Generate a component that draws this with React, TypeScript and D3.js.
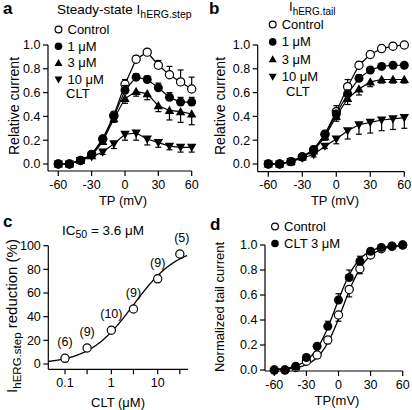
import React from "react";
import * as d3 from "d3";

// ---------- DATA ----------
const tp = [-60, -50, -40, -30, -20, -10, 0, 10, 20, 30, 40, 50, 60];

// panel a: steady-state step current
const aControl = [0, 0, 0.03, 0.08, 0.21, 0.41, 0.67, 0.88, 0.94, 0.83, 0.75, 0.69, 0.63];
const aControlErr = [0, 0, 0, 0.01, 0.02, 0.03, 0.04, 0.03, 0.02, 0.04, 0.07, 0.1, 0.1];
const a1uM = [0, 0, 0.03, 0.08, 0.21, 0.4, 0.62, 0.73, 0.71, 0.64, 0.56, 0.52, 0.52];
const a1uMErr = [0, 0, 0, 0.01, 0.02, 0.03, 0.04, 0.03, 0.03, 0.04, 0.04, 0.04, 0.04];
const a3uM = [0, 0, 0.03, 0.07, 0.19, 0.38, 0.55, 0.61, 0.59, 0.49, 0.45, 0.44, 0.42];
const a3uMErr = [0, 0, 0, 0.01, 0.02, 0.03, 0.04, 0.04, 0.05, 0.05, 0.08, 0.09, 0.09];
const a10uM = [0, 0, 0.03, 0.06, 0.1, 0.17, 0.25, 0.26, 0.21, 0.18, 0.15, 0.14, 0.14];
const a10uMErr = [0, 0, 0, 0.01, 0.02, 0.04, 0.05, 0.06, 0.05, 0.04, 0.03, 0.04, 0.04];

// panel b: tail current
const bControl = [0, 0, 0.02, 0.06, 0.12, 0.25, 0.44, 0.65, 0.83, 0.92, 0.97, 0.99, 1.0];
const bControlErr = [0, 0, 0, 0.01, 0.02, 0.03, 0.05, 0.06, 0.03, 0.02, 0.01, 0.01, 0.01];
const b1uM = [0, 0, 0.02, 0.06, 0.12, 0.25, 0.42, 0.59, 0.72, 0.79, 0.82, 0.83, 0.83];
const b1uMErr = [0, 0, 0, 0.01, 0.02, 0.03, 0.03, 0.03, 0.03, 0.02, 0.02, 0.02, 0.02];
const b3uM = [0, 0, 0.02, 0.06, 0.11, 0.23, 0.4, 0.55, 0.63, 0.69, 0.71, 0.71, 0.71];
const b3uMErr = [0, 0, 0, 0.01, 0.02, 0.03, 0.04, 0.05, 0.05, 0.04, 0.03, 0.03, 0.03];
const b10uM = [0, 0, 0.02, 0.05, 0.08, 0.15, 0.21, 0.28, 0.33, 0.35, 0.37, 0.38, 0.39];
const b10uMErr = [0, 0, 0, 0.01, 0.02, 0.02, 0.04, 0.07, 0.08, 0.09, 0.09, 0.09, 0.09];

// panel c: concentration-response
const cConc = [0.1, 0.3, 1, 3, 10, 30];
const cReduction = [4.8, 13.5, 28.5, 46.5, 72, 93];
const cErr = [0, 0, 0, 0, 3, 0];
const cN = ["(6)", "(9)", "(10)", "(9)", "(9)", "(5)"];
const cFit = { ic50: 3.0, hill: 0.9 };

// panel d: normalized tail current
const dControl = [0, 0, 0.02, 0.07, 0.12, 0.24, 0.44, 0.645, 0.81, 0.92, 0.97, 0.99, 1.0];
const dControlErr = [0, 0, 0, 0.01, 0.02, 0.03, 0.05, 0.06, 0.04, 0.02, 0.01, 0, 0];
const dCLT = [0, 0, 0.03, 0.1, 0.19, 0.35, 0.56, 0.74, 0.87, 0.95, 0.98, 0.99, 1.0];
const dCLTErr = [0, 0, 0, 0.01, 0.02, 0.04, 0.05, 0.06, 0.04, 0.01, 0, 0, 0];
const dFitControl = { v50: 4, k: 11 };
const dFitCLT = { v50: -2.7, k: 11 };

const tpTicks = [-60, -30, 0, 30, 60];
const relTicks = [0, 0.2, 0.4, 0.6, 0.8, 1.0];
const pctTicks = [0, 20, 40, 60, 80, 100];
const concTicks = [0.1, 0.3, 1, 3, 10, 30];
const concLabels = ["0.1", "", "1", "", "10", ""];

// ---------- STYLE ----------
const FONT = "'Liberation Sans', Arial, Helvetica, sans-serif";

function Marker({ x, y, kind, r = 4.1 }: { x: number; y: number; kind: string; r?: number }) {
  if (kind === "open") return <circle cx={x} cy={y} r={r} fill="#fff" stroke="#000" strokeWidth={1.2} />;
  if (kind === "filled") return <circle cx={x} cy={y} r={r + 0.4} fill="#000" />;
  const s = r + 0.6;
  if (kind === "up")
    return <path d={`M${x},${y - s} L${x + s},${y + s * 0.75} L${x - s},${y + s * 0.75} Z`} fill="#000" />;
  return <path d={`M${x},${y + s} L${x + s},${y - s * 0.75} L${x - s},${y - s * 0.75} Z`} fill="#000" />;
}

function Series({ xs, ys, err, dir, kind, sx, sy, line = true }: any) {
  const gen = d3.line<number>().x((_, i) => sx(xs[i])).y((v) => sy(v));
  return (
    <g>
      {ys.map((v: number, i: number) => {
        const e = err ? err[i] : 0;
        if (!e) return null;
        const x = sx(xs[i]);
        const y0 = sy(v);
        const y1 = sy(v + dir * e);
        return (
          <g key={"e" + i}>
            <line x1={x} x2={x} y1={y0} y2={y1} stroke="#000" strokeWidth={1.2} />
            <line x1={x - 3} x2={x + 3} y1={y1} y2={y1} stroke="#000" strokeWidth={1.2} />
          </g>
        );
      })}
      {line && <path d={gen(ys) || ""} fill="none" stroke="#000" strokeWidth={1.2} />}
      {ys.map((v: number, i: number) => (
        <Marker key={i} x={sx(xs[i])} y={sy(v)} kind={kind} />
      ))}
    </g>
  );
}

function YAxis({ x, sy, ticks, fmt, top, bottom }: any) {
  return (
    <g>
      <line x1={x} x2={x} y1={top} y2={bottom} stroke="#000" strokeWidth={1.2} />
      {ticks.map((t: number) => (
        <g key={t}>
          <line x1={x - 5} x2={x} y1={sy(t)} y2={sy(t)} stroke="#000" strokeWidth={1.2} />
          <text x={x - 7.5} y={sy(t) + 4.3} textAnchor="end" fontSize={12.5} fontFamily={FONT}>
            {fmt(t)}
          </text>
        </g>
      ))}
    </g>
  );
}

function XAxis({ y, sx, ticks, labels, left, right }: any) {
  return (
    <g>
      <line x1={left} x2={right} y1={y} y2={y} stroke="#000" strokeWidth={1.2} />
      {ticks.map((t: number, i: number) => (
        <g key={t}>
          <line x1={sx(t)} x2={sx(t)} y1={y} y2={y + 5} stroke="#000" strokeWidth={1.2} />
          <text x={sx(t)} y={y + 17.5} textAnchor="middle" fontSize={12.5} fontFamily={FONT}>
            {labels[i]}
          </text>
        </g>
      ))}
    </g>
  );
}

function Legend({ x, y0, step, items, cltX }: any) {
  return (
    <g fontFamily={FONT} fontSize={13}>
      {items.map((it: any, i: number) => (
        <g key={i}>
          <Marker x={x} y={y0 + i * step - 4.5} kind={it.kind} r={3.4} />
          <text x={x + 9} y={y0 + i * step}>
            {it.label}
          </text>
        </g>
      ))}
      {cltX != null && (
        <text x={cltX} y={y0 + items.length * step - 3}>
          CLT
        </text>
      )}
    </g>
  );
}

const fmt1 = (v: number) => v.toFixed(1);
const tpLabels = tpTicks.map((t) => String(t));

export default function App() {
  // Panel scales
  const axA = d3.scaleLinear().domain([-60, 60]).range([58.3, 191.7]);
  const ayA = d3.scaleLinear().domain([0, 1]).range([164, 45]);
  const axB = d3.scaleLinear().domain([-60, 60]).range([268.3, 404.3]);
  const ayB = d3.scaleLinear().domain([0, 1]).range([164, 45]);
  const axC = d3.scaleLog().domain([0.1, 10]).range([65, 157.7]);
  const ayC = d3.scaleLinear().domain([0, 100]).range([364, 245.7]);
  const axD = d3.scaleLinear().domain([-60, 60]).range([274.3, 402.7]);
  const ayD = d3.scaleLinear().domain([0, 1]).range([370, 245]);

  const legendItems = [
    { kind: "open", label: "Control" },
    { kind: "filled", label: "1 \u03bcM" },
    { kind: "up", label: "3 \u03bcM" },
    { kind: "down", label: "10 \u03bcM" },
  ];

  // fitted curves
  const hill = (c: number) => 100 / (1 + Math.pow(cFit.ic50 / c, cFit.hill));
  const cCurveX = d3.range(Math.log10(0.043), Math.log10(44) + 0.001, 0.02).map((l) => Math.pow(10, l));
  const cLine = d3
    .line<number>()
    .x((c) => axC(c))
    .y((c) => ayC(hill(c)))(cCurveX);

  const boltz = (p: { v50: number; k: number }) => (v: number) => 1 / (1 + Math.exp((p.v50 - v) / p.k));
  const vGrid = d3.range(-60, 60.01, 1);
  const dLineC = d3.line<number>().x((v) => axD(v)).y((v) => ayD(boltz(dFitControl)(v)))(vGrid);
  const dLineT = d3.line<number>().x((v) => axD(v)).y((v) => ayD(boltz(dFitCLT)(v)))(vGrid);

  const bold = { fontFamily: FONT, fontWeight: 700, fontSize: 17 } as any;

  return (
    <svg width={412} height={410} style={{ position: "absolute", left: 0, top: 0, background: "#fff" }}>
      <rect x={0} y={0} width={412} height={410} fill="#fff" />

      {/* ---------- Panel a ---------- */}
      <text x={3} y={14} {...bold}>a</text>
      <text x={57} y={14} fontFamily={FONT} fontSize={13.5}>
        Steady-state I<tspan fontSize={10.5} dy={3.5}>hERG.step</tspan>
      </text>
      <Legend x={58.5} y0={34} step={16.7} items={legendItems} cltX={66} />
      <YAxis x={48} sy={ayA} ticks={relTicks} fmt={fmt1} top={45} bottom={171} />
      <XAxis y={171} sx={axA} ticks={tpTicks} labels={tpLabels} left={48} right={191.7} />
      <text x={123} y={205} textAnchor="middle" fontFamily={FONT} fontSize={13}>TP (mV)</text>
      <text transform="translate(19,106) rotate(-90)" textAnchor="middle" fontFamily={FONT} fontSize={14}>
        Relative current
      </text>
      <Series xs={tp} ys={aControl} err={aControlErr} dir={1} kind="open" sx={axA} sy={ayA} />
      <Series xs={tp} ys={a1uM} err={a1uMErr} dir={1} kind="filled" sx={axA} sy={ayA} />
      <Series xs={tp} ys={a3uM} err={a3uMErr} dir={-1} kind="up" sx={axA} sy={ayA} />
      <Series xs={tp} ys={a10uM} err={a10uMErr} dir={-1} kind="down" sx={axA} sy={ayA} />

      {/* ---------- Panel b ---------- */}
      <text x={209} y={14} {...bold}>b</text>
      <text x={289} y={11} fontFamily={FONT} fontSize={13}>
        I<tspan fontSize={10} dy={3.5}>hERG.tail</tspan>
      </text>
      <Legend x={272.7} y0={29} step={17.4} items={legendItems} cltX={286} />
      <YAxis x={257.7} sy={ayB} ticks={relTicks} fmt={fmt1} top={45} bottom={171.7} />
      <XAxis y={171.7} sx={axB} ticks={tpTicks} labels={tpLabels} left={257.7} right={404.3} />
      <text x={335} y={205} textAnchor="middle" fontFamily={FONT} fontSize={13}>TP (mV)</text>
      <text transform="translate(225,106) rotate(-90)" textAnchor="middle" fontFamily={FONT} fontSize={14}>
        Relative current
      </text>
      <Series xs={tp} ys={bControl} err={bControlErr} dir={1} kind="open" sx={axB} sy={ayB} />
      <Series xs={tp} ys={b1uM} err={b1uMErr} dir={1} kind="filled" sx={axB} sy={ayB} />
      <Series xs={tp} ys={b3uM} err={b3uMErr} dir={-1} kind="up" sx={axB} sy={ayB} />
      <Series xs={tp} ys={b10uM} err={b10uMErr} dir={-1} kind="down" sx={axB} sy={ayB} />

      {/* ---------- Panel c ---------- */}
      <text x={3} y={227} {...bold}>c</text>
      <text x={62} y={235} fontFamily={FONT} fontSize={13.5}>
        IC<tspan fontSize={10.5} dy={3}>50</tspan>
        <tspan dy={-3}> = 3.6 {"\u03bcM"}</tspan>
      </text>
      <YAxis x={48.3} sy={ayC} ticks={pctTicks} fmt={(v: number) => String(v)} top={245.7} bottom={369.3} />
      <XAxis y={369.3} sx={axC} ticks={concTicks} labels={concLabels} left={48.3} right={188} />
      <text x={118} y={407} textAnchor="middle" fontFamily={FONT} fontSize={13}>CLT ({"\u03bcM"})</text>
      <text transform="translate(17,316) rotate(-90)" textAnchor="middle" fontFamily={FONT} fontSize={15}>
        I<tspan fontSize={11.5} dy={4}>hERG.step</tspan>
        <tspan dy={-4}> reduction (%)</tspan>
      </text>
      <path d={cLine || ""} fill="none" stroke="#000" strokeWidth={1.3} />
      <Series xs={cConc} ys={cReduction} err={cErr} dir={1} kind="open" sx={axC} sy={ayC} line={false} />
      {cConc.map((c, i) => (
        <text key={i} x={axC(c) + (i === 5 ? 2 : 0)} y={ayC(cReduction[i]) - 12} textAnchor="middle" fontFamily={FONT} fontSize={12.5}>
          {cN[i]}
        </text>
      ))}

      {/* ---------- Panel d ---------- */}
      <text x={210} y={230} {...bold}>d</text>
      <Legend
        x={275}
        y0={231}
        step={17}
        items={[
          { kind: "open", label: "Control" },
          { kind: "filled", label: "CLT 3 \u03bcM" },
        ]}
      />
      <YAxis x={265} sy={ayD} ticks={relTicks} fmt={fmt1} top={245} bottom={371} />
      <XAxis y={371} sx={axD} ticks={tpTicks} labels={tpLabels} left={265} right={402.7} />
      <text x={337} y={405} textAnchor="middle" fontFamily={FONT} fontSize={13}>TP(mV)</text>
      <text transform="translate(224,307) rotate(-90)" textAnchor="middle" fontFamily={FONT} fontSize={13}>
        Normalized tail current
      </text>
      <path d={dLineC || ""} fill="none" stroke="#000" strokeWidth={1.3} />
      <path d={dLineT || ""} fill="none" stroke="#000" strokeWidth={1.3} />
      <Series xs={tp} ys={dControl} err={dControlErr} dir={-1} kind="open" sx={axD} sy={ayD} line={false} />
      <Series xs={tp} ys={dCLT} err={dCLTErr} dir={1} kind="filled" sx={axD} sy={ayD} line={false} />
    </svg>
  );
}
